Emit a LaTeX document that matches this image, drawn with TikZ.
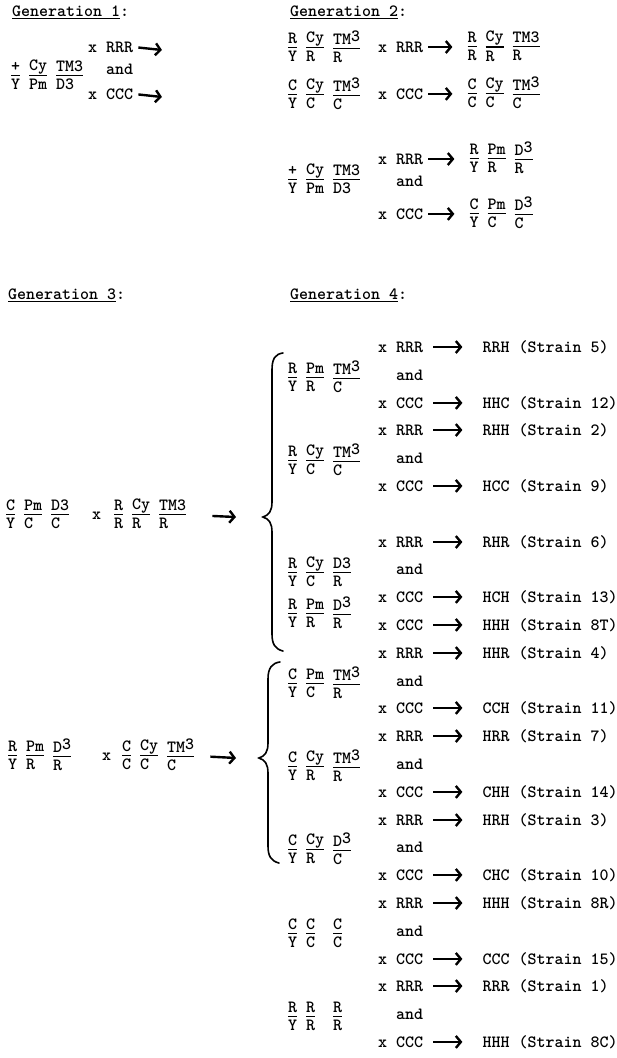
\documentclass[tikz,border=0pt]{standalone}
\usepackage{fontspec}
\setmonofont{lmmonolt10-bold.otf}
\usepackage{tikz}
\usetikzlibrary{arrows.meta,positioning}

% one genetic fraction: top over bar over bottom, left aligned
\newcommand{\frc}[2]{%
  \setbox0\hbox{#1}\setbox2\hbox{#2}%
  \ifdim\wd0<\wd2 \wd0=\wd2 \fi
  $\vcenter{\hbox to\wd0{\vrule width0pt height11pt depth3pt#1\hss}%
    \kern0.5pt\hrule height1.3pt\kern2.5pt%
    \hbox to\wd0{\vrule width0pt height11pt depth2pt#2\hss}}$}
\newcommand{\rz}[1]{\raisebox{3pt}{#1}}
% three fractions on typewriter columns 0, 2, 5
\newcommand{\geno}[6]{\makebox[18pt][l]{\frc{#1}{#2}}\makebox[27pt][l]{\frc{#3}{#4}}\frc{#5}{#6}}

\begin{document}
\begin{tikzpicture}[
    x=1pt,y=-1pt,
    font=\ttfamily\fontsize{17.14}{20}\selectfont,
    hdr/.style={inner sep=0pt,anchor=mid west},
    xrow/.style={inner sep=0pt,anchor=mid west},
    gt/.style={inner sep=0pt,anchor=mid west},
    res/.style={inner sep=0pt,anchor=west},
    arr/.style={-{Straight Barb[length=5pt,width=12pt]},line width=2.4pt,
                shorten <=5pt},
    curly/.style={line width=1.6pt,line cap=round}
  ]
  \useasboundingbox (0,0) rectangle (617,1058);

  % generation 1
  \node[hdr] (h1) at (12,14) {\underline{Generation 1}:};
  \node[gt] (p1) at (11,78) {\geno{+}{Y}{Cy}{Pm}{TM3}{D3}};
  \node[xrow] (x1) at (88,50) {x RRR};
  \node[xrow] (n1) at (106,72) {and};
  \node[xrow] (x2) at (88,97) {x CCC};
  \coordinate (e1) at (162,50);
  \coordinate (e2) at (162,97);
  \draw[arr] (x1.east) -- (e1);
  \draw[arr] (x2.east) -- (e2);

  % generation 2
  \node[hdr] (h2) at (290,14) {\underline{Generation 2}:};
  \node[gt] (p2) at (288,50) {\geno{R}{Y}{Cy}{R}{TM\rz{3}}{R}};
  \node[xrow] (x3) at (378,50) {x RRR};
  \node[res,right=44pt of x3] (q1) {\geno{R}{R}{Cy}{R}{TM3}{R}};
  \draw[arr,shorten >=15pt] (x3.east) -- (x3.east -| q1.west);

  \node[gt] (p3) at (288,97) {\geno{C}{Y}{Cy}{C}{TM\rz{3}}{C}};
  \node[xrow] (x4) at (378,97) {x CCC};
  \node[res,right=44pt of x4] (q2) {\geno{C}{C}{Cy}{C}{TM\rz{3}}{C}};
  \draw[arr,shorten >=15pt] (x4.east) -- (x4.east -| q2.west);

  \node[gt] (p4) at (288,182) {\geno{+}{Y}{Cy}{Pm}{TM3}{D3}};
  \node[xrow] (x5) at (378,162) {x RRR};
  \node[xrow] (n2) at (396,184) {and};
  \node[xrow] (x6) at (378,217) {x CCC};
  \node[res,right=46pt of x5] (q3) {\geno{R}{Y}{Pm}{R}{D\rz{3}}{R}};
  \node[res,right=46pt of x6] (q4) {\geno{C}{Y}{Pm}{C}{D\rz{3}}{C}};
  \draw[arr,shorten >=15pt] (x5.east) -- (x5.east -| q3.west);
  \draw[arr,shorten >=15pt] (x6.east) -- (x6.east -| q4.west);

  % generation 3
  \node[hdr] (h3) at (8,297) {\underline{Generation 3}:};
  \node[gt] (s1) at (6,517) {\geno{C}{Y}{Pm}{C}{D3}{C}};
  \node[xrow] (sx1) at (92,517) {x};
  \node[gt] (s2) at (114,517) {\geno{R}{R}{Cy}{R}{TM3}{R}};
  \coordinate (t1) at (236,517);
  \draw[arr,shorten <=26pt] (s2.east) -- (t1);

  \node[gt] (s3) at (8,758) {\geno{R}{Y}{Pm}{R}{D\rz{3}}{R}};
  \node[xrow] (sx2) at (102,758) {x};
  \node[gt] (s4) at (122,758) {\geno{C}{C}{Cy}{C}{TM\rz{3}}{C}};
  \coordinate (t2) at (236,758);
  \draw[arr,shorten <=16pt] (s4.east) -- (t2);

  \draw[curly] (283,353) .. controls (275,354) and (272,359) .. (272,370)
    -- (272,502) .. controls (272,511) and (269,515) .. (263,517)
    .. controls (269,519) and (272,523) .. (272,532)
    -- (272,634) .. controls (272,644) and (275,649) .. (283,651);
  \draw[curly] (280,662) .. controls (272,663) and (268,668) .. (268,679)
    -- (268,743) .. controls (268,752) and (265,756) .. (259,758)
    .. controls (265,760) and (268,764) .. (268,773)
    -- (268,846) .. controls (268,856) and (271,861) .. (279,863);

  % generation 4
  \node[hdr] (h4) at (290,297) {\underline{Generation 4}:};
  \node[gt] (gA) at (288,380) {\geno{R}{Y}{Pm}{R}{TM\rz{3}}{C}};
  \node[gt] (gB) at (288,463) {\geno{R}{Y}{Cy}{C}{TM\rz{3}}{C}};
  \node[gt] (gC) at (288,575) {\geno{R}{Y}{Cy}{C}{D3}{R}};
  \node[gt] (gD) at (288,616) {\geno{R}{Y}{Pm}{R}{D\rz{3}}{R}};
  \node[gt] (gE) at (288,686) {\geno{C}{Y}{Pm}{C}{TM\rz{3}}{R}};
  \node[gt] (gF) at (288,769) {\geno{C}{Y}{Cy}{R}{TM\rz{3}}{R}};
  \node[gt] (gG) at (288,852) {\geno{C}{Y}{Cy}{R}{D\rz{3}}{C}};
  \node[gt] (gH) at (288,936) {\geno{C}{Y}{C}{C}{C}{C}};
  \node[gt] (gI) at (288,1019) {\geno{R}{Y}{R}{R}{R}{R}};

  \node[xrow] (c1) at (378,350) {x RRR};
  \node[res,right=59pt of c1] (r1) {RRH (Strain 5)};
  \node[xrow] (a1) at (396,378) {and};
  \node[xrow] (c2) at (378,406) {x CCC};
  \node[res,right=59pt of c2] (r2) {HHC (Strain 12)};
  \node[xrow] (c3) at (378,433) {x RRR};
  \node[res,right=59pt of c3] (r3) {RHH (Strain 2)};
  \node[xrow] (a2) at (396,461) {and};
  \node[xrow] (c4) at (378,489) {x CCC};
  \node[res,right=59pt of c4] (r4) {HCC (Strain 9)};
  \node[xrow] (c5) at (378,545) {x RRR};
  \node[res,right=59pt of c5] (r5) {RHR (Strain 6)};
  \node[xrow] (a3) at (396,572) {and};
  \node[xrow] (c6) at (378,600) {x CCC};
  \node[res,right=59pt of c6] (r6) {HCH (Strain 13)};
  \node[xrow] (c7) at (378,628) {x CCC};
  \node[res,right=59pt of c7] (r7) {HHH (Strain 8T)};
  \node[xrow] (c8) at (378,656) {x RRR};
  \node[res,right=59pt of c8] (r8) {HHR (Strain 4)};
  \node[xrow] (a4) at (396,684) {and};
  \node[xrow] (c9) at (378,711) {x CCC};
  \node[res,right=59pt of c9] (r9) {CCH (Strain 11)};
  \node[xrow] (c10) at (378,739) {x RRR};
  \node[res,right=59pt of c10] (r10) {HRR (Strain 7)};
  \node[xrow] (a5) at (396,767) {and};
  \node[xrow] (c11) at (378,795) {x CCC};
  \node[res,right=59pt of c11] (r11) {CHH (Strain 14)};
  \node[xrow] (c12) at (378,823) {x RRR};
  \node[res,right=59pt of c12] (r12) {HRH (Strain 3)};
  \node[xrow] (a6) at (396,850) {and};
  \node[xrow] (c13) at (378,878) {x CCC};
  \node[res,right=59pt of c13] (r13) {CHC (Strain 10)};
  \node[xrow] (c14) at (378,906) {x RRR};
  \node[res,right=59pt of c14] (r14) {HHH (Strain 8R)};
  \node[xrow] (a7) at (396,934) {and};
  \node[xrow] (c15) at (378,962) {x CCC};
  \node[res,right=59pt of c15] (r15) {CCC (Strain 15)};
  \node[xrow] (c16) at (378,989) {x RRR};
  \node[res,right=59pt of c16] (r16) {RRR (Strain 1)};
  \node[xrow] (a8) at (396,1017) {and};
  \node[xrow] (c17) at (378,1045) {x CCC};
  \node[res,right=59pt of c17] (r17) {HHH (Strain 8C)};

  \draw[arr,shorten <=10pt,shorten >=20pt] (c1.east) -- (c1.east -| r1.west);
  \draw[arr,shorten <=10pt,shorten >=20pt] (c2.east) -- (c2.east -| r2.west);
  \draw[arr,shorten <=10pt,shorten >=20pt] (c3.east) -- (c3.east -| r3.west);
  \draw[arr,shorten <=10pt,shorten >=20pt] (c4.east) -- (c4.east -| r4.west);
  \draw[arr,shorten <=10pt,shorten >=20pt] (c5.east) -- (c5.east -| r5.west);
  \draw[arr,shorten <=10pt,shorten >=20pt] (c6.east) -- (c6.east -| r6.west);
  \draw[arr,shorten <=10pt,shorten >=20pt] (c7.east) -- (c7.east -| r7.west);
  \draw[arr,shorten <=10pt,shorten >=20pt] (c8.east) -- (c8.east -| r8.west);
  \draw[arr,shorten <=10pt,shorten >=20pt] (c9.east) -- (c9.east -| r9.west);
  \draw[arr,shorten <=10pt,shorten >=20pt] (c10.east) -- (c10.east -| r10.west);
  \draw[arr,shorten <=10pt,shorten >=20pt] (c11.east) -- (c11.east -| r11.west);
  \draw[arr,shorten <=10pt,shorten >=20pt] (c12.east) -- (c12.east -| r12.west);
  \draw[arr,shorten <=10pt,shorten >=20pt] (c13.east) -- (c13.east -| r13.west);
  \draw[arr,shorten <=10pt,shorten >=20pt] (c14.east) -- (c14.east -| r14.west);
  \draw[arr,shorten <=10pt,shorten >=20pt] (c15.east) -- (c15.east -| r15.west);
  \draw[arr,shorten <=10pt,shorten >=20pt] (c16.east) -- (c16.east -| r16.west);
  \draw[arr,shorten <=10pt,shorten >=20pt] (c17.east) -- (c17.east -| r17.west);
\end{tikzpicture}
\end{document}
